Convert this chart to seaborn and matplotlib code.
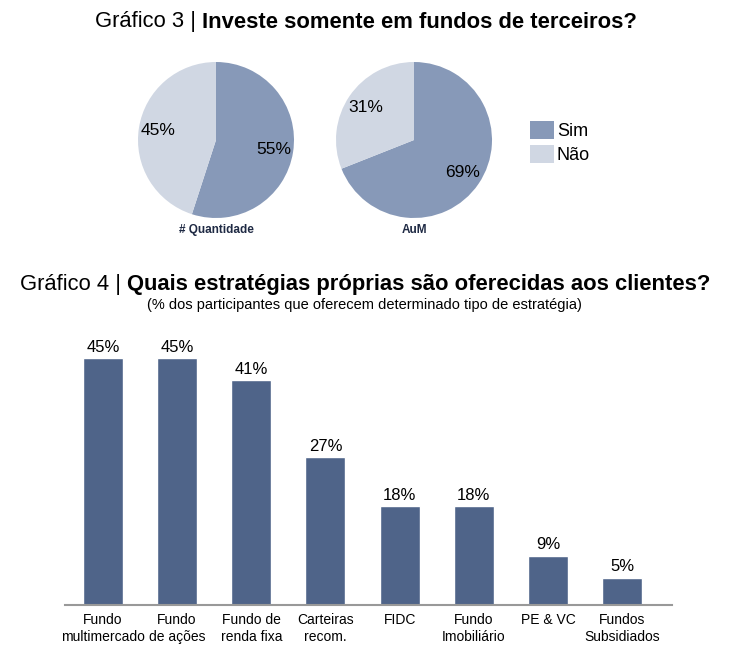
import numpy as np
import pandas as pd
import seaborn as sns
import matplotlib.pyplot as plt
from matplotlib.patches import Rectangle

# Gráfico 3 - pies
pie_labels = ['Sim', 'Não']
quantidade = [55, 45]
aum = [69, 31]
pie_titles = ['# Quantidade', 'AuM']

# Gráfico 4 - bars
estrategias = ['Fundo\nmultimercado', 'Fundo\nde ações', 'Fundo de\nrenda fixa', 'Carteiras\nrecom.',
               'FIDC', 'Fundo\nImobiliário', 'PE & VC', 'Fundos\nSubsidiados']
percentuais = [45, 45, 41, 27, 18, 18, 9, 5]

sns.set_theme(style='white')
plt.rcParams['font.family'] = ['Liberation Sans', 'DejaVu Sans']
plt.rcParams['text.color'] = 'black'
plt.rcParams['xtick.color'] = 'black'

W, H = 746, 671
fig = plt.figure(figsize=(W / 100, H / 100), dpi=100)

PIE_COLORS = ['#8799B8', '#D0D7E3']
BAR_COLOR = '#4F6489'


def px_axes(x0, y0, x1, y1):
    # pixel box (top-left origin) -> figure axes
    return fig.add_axes([x0 / W, 1 - y1 / H, (x1 - x0) / W, (y1 - y0) / H])


def mixed_title(y, normal, bold, size, xc=W / 2):
    r = fig.canvas.get_renderer()
    t1 = fig.text(0, 1 - y / H, normal, fontsize=size, va='center', ha='left')
    t2 = fig.text(0, 1 - y / H, bold, fontsize=size, va='center', ha='left', fontweight='bold')
    w1 = t1.get_window_extent(r).width
    w2 = t2.get_window_extent(r).width
    x0 = xc - (w1 + w2) / 2
    t1.set_x(x0 / W)
    t2.set_x((x0 + w1) / W)


# titles
mixed_title(22, 'Gráfico 3 | ', 'Investe somente em fundos de terceiros?', 15.8, xc=366)
mixed_title(285, 'Gráfico 4 | ', 'Quais estratégias próprias são oferecidas aos clientes?', 15.8, xc=365)
fig.text(364 / W, 1 - 305 / H, '(% dos participantes que oferecem determinado tipo de estratégia)',
         fontsize=10.5, ha='center', va='center')

# pies
r = 78
for cx, vals, name in [(216, quantidade, pie_titles[0]), (414, aum, pie_titles[1])]:
    ax = px_axes(cx - r, 140 - r, cx + r, 140 + r)
    ax.pie(vals, colors=PIE_COLORS, startangle=90, counterclock=False,
           autopct=lambda p: f'{p:.0f}%', pctdistance=0.75,
           textprops={'fontsize': 12.5, 'color': 'black'},
           wedgeprops={'linewidth': 0})
    ax.set_xlim(-1, 1)
    ax.set_ylim(-1, 1)
    fig.text(cx / W, 1 - 230 / H, name, fontsize=8.5, fontweight='bold',
             color='#1F2A44', ha='center', va='center')

# legend drawn by hand to match the square swatches
for i, (lab, c) in enumerate(zip(pie_labels, PIE_COLORS)):
    top = 121 + i * 24
    fig.patches.append(Rectangle((530 / W, 1 - (top + 18) / H), 24 / W, 18 / H,
                                 transform=fig.transFigure, facecolor=c, edgecolor='none'))
    fig.text(557 / W, 1 - (top + 10) / H, lab, fontsize=13, ha='left', va='center')

# bars
df = pd.DataFrame({'estrategia': estrategias, 'pct': percentuais})
ax = px_axes(65, 330, 672, 605)
sns.barplot(data=df, x='estrategia', y='pct', color=BAR_COLOR, width=0.54,
            saturation=1, ax=ax)
for i, v in enumerate(percentuais):
    ax.text(i, v + 0.6, f'{v}%', ha='center', va='bottom', fontsize=12)
ax.set_xlim(-0.51, 7.67)
ax.set_ylim(0, 50.1)
ax.set_xlabel('')
ax.set_ylabel('')
ax.set_yticks([])
ax.tick_params(axis='x', length=0, labelsize=10, pad=6)
for s in ['top', 'right', 'left']:
    ax.spines[s].set_visible(False)
ax.spines['bottom'].set_color('#999999')
ax.spines['bottom'].set_linewidth(1.5)

fig.savefig('out.png', dpi=100)
